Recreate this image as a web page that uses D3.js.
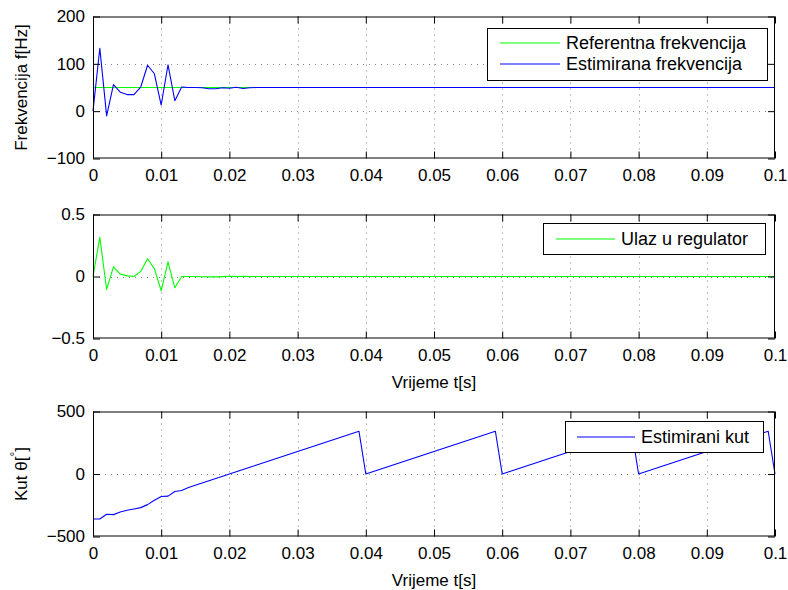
<!DOCTYPE html>
<html><head><meta charset="utf-8">
<script src="https://cdn.jsdelivr.net/npm/d3@7"></script>
<style>
body{margin:0;background:#fff}
svg{display:block}
text{font-family:"Liberation Sans",Arial,Helvetica,sans-serif;fill:#000}
</style>
</head><body><svg id="c" width="788" height="590"></svg>
<script>
// ---------- data ----------
const time = [0,0.001,0.002,0.003,0.004,0.005,0.006,0.007,0.008,0.009,
0.010,0.011,0.012,0.013,0.014,0.015,0.016,0.017,0.018,0.019,
0.020,0.021,0.022,0.023,0.024,0.025,0.026,0.027,0.028,0.029,
0.030,0.031,0.032,0.033,0.034,0.035,0.036,0.037,0.038,0.039,
0.040,0.041,0.042,0.043,0.044,0.045,0.046,0.047,0.048,0.049,
0.050,0.051,0.052,0.053,0.054,0.055,0.056,0.057,0.058,0.059,
0.060,0.061,0.062,0.063,0.064,0.065,0.066,0.067,0.068,0.069,
0.070,0.071,0.072,0.073,0.074,0.075,0.076,0.077,0.078,0.079,
0.080,0.081,0.082,0.083,0.084,0.085,0.086,0.087,0.088,0.089,
0.090,0.091,0.092,0.093,0.094,0.095,0.096,0.097,0.098,0.099,0.100];

const refTime = [0, 0.1];
const refFreq = [50, 50];

const estFreq = [0,133,-10,56,40,35,35,51,97,79,
13,98,22,51,50,50,49.5,47.5,47.5,49.5,
48.5,50.5,48,49.5,50,50,50,50,50,50,
50,50,50,50,50,50,50,50,50,50,
50,50,50,50,50,50,50,50,50,50,
50,50,50,50,50,50,50,50,50,50,
50,50,50,50,50,50,50,50,50,50,
50,50,50,50,50,50,50,50,50,50,
50,50,50,50,50,50,50,50,50,50,
50,50,50,50,50,50,50,50,50,50,50];

const regInput = [0,0.316,-0.104,0.077,0.019,0.005,0,0.041,0.143,0.063,
-0.115,0.118,-0.091,0,0,0,-0.002,-0.003,-0.003,-0.001,
0.002,-0.001,0.002,-0.001,0,0,0,0,0,0,
0,0,0,0,0,0,0,0,0,0,
0,0,0,0,0,0,0,0,0,0,
0,0,0,0,0,0,0,0,0,0,
0,0,0,0,0,0,0,0,0,0,
0,0,0,0,0,0,0,0,0,0,
0,0,0,0,0,0,0,0,0,0,
0,0,0,0,0,0,0,0,0,0,0];

const estAngle = [-360,-360,-322,-325,-304,-290,-280,-269,-245,-210,
-180,-177,-140,-132,-108,-90,-72,-54,-36,-18,
0,18,36,54,72,90,108,126,144,162,
180,198,216,234,252,270,288,306,324,342,
0,18,36,54,72,90,108,126,144,162,
180,198,216,234,252,270,288,306,324,342,
0,18,36,54,72,90,108,126,144,162,
180,198,216,234,252,270,288,306,324,342,
0,18,36,54,72,90,108,126,144,162,
180,198,216,234,252,270,288,306,324,342,0];

const xTicks = [0,0.01,0.02,0.03,0.04,0.05,0.06,0.07,0.08,0.09,0.1];
const xTickLabels = ["0","0.01","0.02","0.03","0.04","0.05","0.06","0.07","0.08","0.09","0.1"];
const freqTicks = [-100,0,100,200];
const freqTickLabels = ["\u2212100","0","100","200"];
const regTicks = [-0.5,0,0.5];
const regTickLabels = ["\u22120.5","0","0.5"];
const angleTicks = [-500,0,500];
const angleTickLabels = ["\u2212500","0","500"];

// ---------- drawing ----------
const svg = d3.select("#c");
svg.append("rect").attr("width",788).attr("height",590).attr("fill","#fff");
const L = 93, R = 775;
const FS = 17;

function panel(cfg){
  const x = d3.scaleLinear().domain([0,0.1]).range([L,R]);
  const y = d3.scaleLinear().domain(cfg.domain).range([cfg.bottom,cfg.top]);
  const g = svg.append("g");
  // grid
  const grid = g.append("g").attr("stroke","#000").attr("stroke-width",0.8)
    .attr("stroke-dasharray","1,5").attr("opacity",0.6);
  grid.selectAll("line.v").data(xTicks.slice(1,-1)).join("line").attr("class","v")
    .attr("x1",d=>Math.round(x(d))+0.5).attr("x2",d=>Math.round(x(d))+0.5)
    .attr("y1",cfg.top).attr("y2",cfg.bottom);
  grid.selectAll("line.h").data(cfg.yTicks.filter(d=>d>cfg.domain[0]&&d<cfg.domain[1])).join("line").attr("class","h")
    .attr("y1",d=>Math.round(y(d))+0.5).attr("y2",d=>Math.round(y(d))+0.5)
    .attr("x1",L).attr("x2",R);
  // series
  const line = d3.line().x(d=>x(d[0])).y(d=>y(d[1]));
  cfg.series.forEach(s=>{
    g.append("path").datum(s.t.map((t,i)=>[t,s.v[i]]))
      .attr("fill","none").attr("stroke",s.color).attr("stroke-width",1.1)
      .attr("stroke-linejoin","round").attr("d",line);
  });
  // axes
  const tick = 7;
  const ax = (sel)=>{sel.select(".domain").remove(); sel.selectAll("text").attr("font-size",FS).attr("font-family",null).attr("fill","#000"); sel.selectAll("line").attr("stroke","#000");};
  g.append("g").attr("transform",`translate(0,${cfg.bottom})`)
    .call(d3.axisBottom(x).tickValues(xTicks).tickFormat((d,i)=>xTickLabels[i]).tickSize(-tick).tickPadding(10))
    .call(ax).attr("font-family",null);
  g.append("g").attr("transform",`translate(0,${cfg.top})`)
    .call(d3.axisTop(x).tickValues(xTicks).tickFormat("").tickSize(-tick)).call(ax);
  g.append("g").attr("transform",`translate(${L},0)`)
    .call(d3.axisLeft(y).tickValues(cfg.yTicks).tickFormat((d,i)=>cfg.yLabels[i]).tickSize(-tick).tickPadding(8))
    .call(ax).attr("font-family",null);
  g.append("g").attr("transform",`translate(${R},0)`)
    .call(d3.axisRight(y).tickValues(cfg.yTicks).tickFormat("").tickSize(-tick)).call(ax);
  g.append("rect").attr("x",L+0.5).attr("y",cfg.top+0.5).attr("width",R-L-1).attr("height",cfg.bottom-cfg.top-1)
    .attr("fill","none").attr("stroke","#000").attr("stroke-width",1);
  // legend
  const lg = cfg.legend;
  const lgG = g.append("g");
  lgG.append("rect").attr("x",lg.x+0.5).attr("y",lg.y+0.5).attr("width",lg.w).attr("height",lg.h)
    .attr("fill","#fff").attr("stroke","#000").attr("stroke-width",1);
  lg.items.forEach((it,i)=>{
    const cy = lg.y + lg.firstRow + i*lg.rowH;
    lgG.append("line").attr("x1",lg.lineX1).attr("x2",lg.lineX2).attr("y1",cy).attr("y2",cy)
      .attr("stroke",it.color).attr("stroke-width",1.1);
    lgG.append("text").attr("x",lg.textX).attr("y",cy).attr("dy","0.35em")
      .attr("font-size",lg.fs).text(it.label);
  });
  // x label
  if(cfg.xlabel){
    g.append("text").attr("x",(L+R)/2).attr("y",cfg.bottom+49).attr("text-anchor","middle")
      .attr("font-size",FS).text(cfg.xlabel);
  }
  return g;
}

panel({top:16.5,bottom:158.5,domain:[-100,200],yTicks:freqTicks,yLabels:freqTickLabels,
  series:[{t:refTime,v:refFreq,color:"#00ff00"},{t:time,v:estFreq,color:"#0000ff"}],
  legend:{x:487,y:28,w:280,h:52,firstRow:15,rowH:21,lineX1:500,lineX2:560,textX:566,fs:18,
    items:[{label:"Referentna frekvencija",color:"#00ff00"},{label:"Estimirana frekvencija",color:"#0000ff"}]}
});
panel({top:214.5,bottom:338.5,domain:[-0.5,0.5],yTicks:regTicks,yLabels:regTickLabels,
  series:[{t:time,v:regInput,color:"#00ff00"}],
  legend:{x:543,y:223,w:222,h:31,firstRow:16,rowH:21,lineX1:556,lineX2:615,textX:621,fs:18,
    items:[{label:"Ulaz u regulator",color:"#00ff00"}]},
  xlabel:"Vrijeme t[s]"
});
panel({top:411.5,bottom:536.5,domain:[-500,500],yTicks:angleTicks,yLabels:angleTickLabels,
  series:[{t:time,v:estAngle,color:"#0000ff"}],
  legend:{x:565,y:421,w:198,h:31,firstRow:16,rowH:21,lineX1:577,lineX2:635,textX:641,fs:18,
    items:[{label:"Estimirani kut",color:"#0000ff"}]},
  xlabel:"Vrijeme t[s]"
});

// y labels
svg.append("text").attr("transform",`translate(27,${(16.5+158.5)/2}) rotate(-90)`)
  .attr("text-anchor","middle").attr("font-size",FS).text("Frekvencija f[Hz]");
const kt = svg.append("text").attr("transform",`translate(27,${(411.5+536.5)/2}) rotate(-90)`)
  .attr("text-anchor","middle").attr("font-size",FS);
kt.append("tspan").text("Kut \u03b8[");
kt.append("tspan").attr("dy",-8).attr("font-size",12).text("\u00b0");
kt.append("tspan").attr("dy",8).text("]");
</script>
</body></html>
